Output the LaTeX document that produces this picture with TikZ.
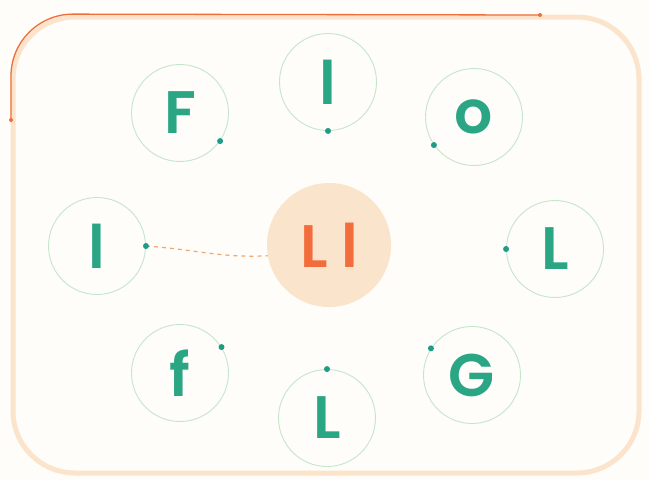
\documentclass[tikz,border=0pt]{standalone}
\usepackage{fontspec}
\newfontfamily\pop{Poppins}[UprightFont=* SemiBold]
\definecolor{bgc}{HTML}{FFFDF9}
\definecolor{peach}{HTML}{FBE4CB}
\definecolor{orangeline}{HTML}{EC6F3C}
\definecolor{ringc}{HTML}{C3E6CC}
\definecolor{txtg}{HTML}{2AA684}
\definecolor{dotc}{HTML}{1F9C88}
\definecolor{centerfill}{HTML}{FAE4CC}
\definecolor{centertxt}{HTML}{F26C3C}
\definecolor{dashc}{HTML}{F0A66C}
\tikzset{
  letter/.style={circle, draw=ringc, line width=0.9pt, minimum size=97pt, inner sep=0pt,
    text=txtg, font=\pop\fontsize{60}{60}\selectfont},
  hub/.style={circle, fill=centerfill, minimum size=124pt, inner sep=0pt,
    text=centertxt, font=\pop\fontsize{60}{60}\selectfont},
  pin/.style={circle, fill=dotc, minimum size=6pt, inner sep=0pt},
  endpin/.style={circle, fill=orangeline, minimum size=4pt, inner sep=0pt},
}
\begin{document}
\begin{tikzpicture}[x=1pt,y=-1pt]
\fill[bgc] (0,0) rectangle (650,480);
\useasboundingbox (0,0) rectangle (650,480);
% outer frame
\draw[peach, line width=5pt, rounded corners=62pt] (13,17) rectangle (639,473);
% orange trace on top-left corner
\coordinate (os) at (11,120);
\coordinate (oe) at (540,15);
\draw[orangeline, line width=1.3pt, rounded corners=62pt] (os) -- (11,14) -- (oe);
\node[endpin] at (os) {};
\node[endpin] at (oe) {};
% nodes
\node[hub] (c) at (329,245) {L\hspace{0.22em}l};
\node[letter] (F) at (180,113) {F};
\node[letter] (lt) at (328,82) {l};
\node[letter] (o) at (474,117) {o};
\node[letter] (ll) at (97,246) {l};
\node[letter] (Lr) at (555,249) {L};
\node[letter] (f) at (180,373) {f};
\node[letter] (Lb) at (327,418) {L};
\node[letter] (G) at (472,375) {G};
% dashed link
\draw[dashc, line width=1.2pt, dash pattern=on 4pt off 4pt] (ll.0) .. controls (200,250) and (220,258) .. (c.190);
% pins
\node[pin] at (F.-35) {};
\node[pin] at (lt.-90) {};
\node[pin] at (o.215) {};
\node[pin] at (ll.0) {};
\node[pin] at (Lr.180) {};
\node[pin] at (f.32) {};
\node[pin] at (Lb.90) {};
\node[pin] at (G.147) {};
\end{tikzpicture}
\end{document}
